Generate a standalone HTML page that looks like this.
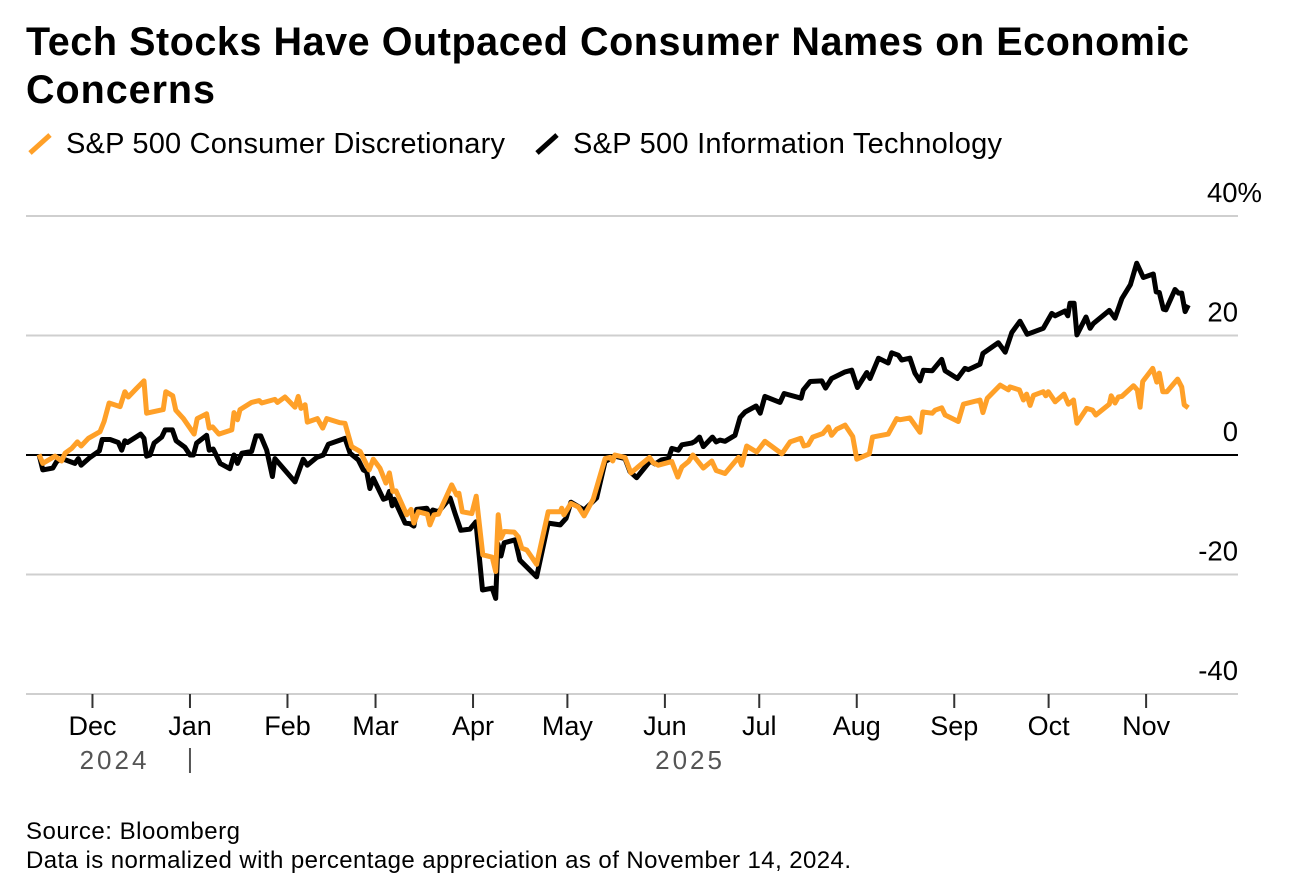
<!DOCTYPE html>
<html>
<head>
<meta charset="utf-8">
<title>Tech Stocks Have Outpaced Consumer Names on Economic Concerns</title>
<style>
html,body{margin:0;padding:0;background:#fff;}
svg{display:block;font-family:"Liberation Sans",Arial,sans-serif;}
</style>
</head>
<body>
<svg id="chart" width="1308" height="892" viewBox="0 0 1308 892" xmlns="http://www.w3.org/2000/svg">
  <rect x="0" y="0" width="1308" height="892" fill="#fff"/>
  <g font-size="39.5" font-weight="700" fill="#000">
    <text x="26" y="55" textLength="1163" lengthAdjust="spacing">Tech Stocks Have Outpaced Consumer Names on Economic</text>
    <text x="26" y="103" textLength="189" lengthAdjust="spacing">Concerns</text>
  </g>
  <g font-size="29" fill="#000">
    <g>
      <line x1="30" y1="153" x2="50" y2="135" stroke="#ffa028" stroke-width="5"/>
      <text x="66" y="153" textLength="439" lengthAdjust="spacing">S&amp;P 500 Consumer Discretionary</text>
    </g>
    <g>
      <line x1="537" y1="153" x2="557" y2="135" stroke="#000" stroke-width="5"/>
      <text x="573" y="153" textLength="429" lengthAdjust="spacing">S&amp;P 500 Information Technology</text>
    </g>
  </g>
  <g id="y-grid"></g>
  <g id="y-labels" font-size="27.5" fill="#000"></g>
  <g id="x-axis"></g>
  <g id="series"></g>
  <g font-size="24" fill="#000">
    <text x="26" y="839" textLength="214" lengthAdjust="spacing">Source: Bloomberg</text>
    <text x="26" y="868" textLength="825" lengthAdjust="spacing">Data is normalized with percentage appreciation as of November 14, 2024.</text>
  </g>
</svg>
<script>
// Days since November 14, 2024, and percentage change.
const consumerDays = [0,1.2,5.1,7.2,8.3,10.4,12.2,13.4,15.7,19.4,20.7,22.3,25.8,27.3,28.4,31.1,33.4,34.2,39.5,40.3,42.5,43.5,45.9,49.3,50.3,53.3,54.1,55.2,57.2,61.3,62,63.1,63.9,67.6,70,70.8,75,75.8,78.2,81.4,82.4,83.3,84.6,85.3,88.5,90.2,91.5,95.7,97.3,99.4,102.1,105,106.3,108.4,110.3,111.4,112.5,113.5,116.9,118.3,119.2,120.6,123.5,124.3,125.6,127,131.2,132.8,133.5,134.6,137.6,139,141.1,144.1,145.2,146,146.9,147.9,151.1,152.4,153.5,155.1,158.2,161.9,165.7,166.2,166.9,169.1,171.5,173.3,176.2,180,181.6,182.4,183.1,186.3,188.2,190,194.1,195.3,196.9,201.2,203.1,204.4,206.5,207.9,211.2,213.9,215.3,218.1,222.4,223.4,225,228.2,230.8,236.2,238.8,242.2,243.2,244.6,246,249.2,251,252,253.6,256.3,258.7,260,264,265,270,272.7,273.8,276.9,280.1,281,284,284.9,287,288.1,292.3,293.9,299.2,300.1,301.5,305.6,308.2,308.7,311.7,313,314,315.1,316.2,319.3,320.1,320.9,323.1,325.9,327.3,328.9,330,333.1,335,336,340.3,340.9,342.1,343.2,344.3,348,349.2,350.1,350.9,354.1,355.4,356.2,357.3,358.6,362,363.3,364.1,365.4];
const consumerValues = [0.1,-1.4,-0.2,-1,0.3,1.1,2.2,1.5,2.8,3.9,5.6,8.7,8.1,10.6,9.7,11.2,12.4,7,7.6,10.6,9.9,7.5,6.1,3.5,6.1,6.9,4.5,4.7,3.5,4.2,7.1,5.9,7.6,8.8,9.1,8.7,9.3,8.8,9.7,8,9.8,7.8,8.4,5.5,6.1,4.5,6.1,5.4,5.3,1.4,0.6,-2.5,-0.7,-2.2,-4.7,-3,-6.1,-6,-10,-9.1,-11.4,-9.5,-9.9,-11.7,-10,-9.9,-5,-6.7,-6.4,-9.5,-9.8,-6.9,-16.7,-17.1,-19.5,-10,-13.9,-12.8,-12.9,-13.7,-15.6,-15.9,-18.3,-9.5,-9.5,-8.9,-10,-8.1,-8.7,-10.2,-7.4,-0.6,-0.4,-1,0,-0.4,-3,-2.2,-0.4,-1.3,-1.7,-1.1,-3.7,-2,-1.1,0,-2.2,-1,-2.6,-3.1,-0.4,-1.7,1.5,0.5,2.3,0.2,2.2,2.8,1.5,1.7,3,3.6,4.7,3.3,4.3,5,3.1,-0.7,0.2,3,3.5,6.1,5.9,6.2,3.8,7.2,7,7.5,7.9,6.7,5.6,8.5,9.2,7.1,9.5,11.7,10.9,11.4,10.9,9.2,10.2,8.3,10,10.6,9.9,10.6,8.9,10.2,8.5,9.2,5.3,7.8,7.5,6.7,8.5,9.9,8.7,9.7,9.8,11.6,10.9,8,12.3,14.5,12.2,13.7,10.6,10.6,12.7,11.4,8.4,7.9];
const techDays = [0,1.2,4.4,5.6,7.2,8.3,11.4,12.5,13.4,16.2,19.2,20.1,22.6,25.2,26.3,27.3,28.1,32.3,33.4,34.2,35.3,36.6,39,40.1,42.4,43.6,46.4,48,49.1,50.1,53.3,54.1,55.4,57.6,60.7,62,63.1,64.5,67.6,69,70.5,72.4,74.2,75,81.4,84,85.3,88.3,90.4,92,95.7,97.3,98.9,101.5,103.1,104.2,105.2,106.3,109.5,110.6,111.4,112.3,112.9,116.4,118,119.2,120.1,123.3,124.3,125.2,127,130.7,132.3,134.1,137,138.9,141,144.1,145.2,145.9,146.9,147.9,151.4,152.9,158.2,161.9,165.7,167.6,169.1,173.3,177.3,180,183.1,186.3,187.9,190,194.3,195.9,198,200.1,201.2,203.3,204.4,207.5,208.6,210,211.2,214.1,215.3,216.5,218.1,221.3,222.9,224.5,228,229.3,230.8,235.6,236.9,242.3,243,245.2,248.9,250.1,252,256.3,258.4,260.2,263.2,264.2,266.9,270,271.1,273.2,274.3,276.9,278.5,280.1,281.2,284,287,288.1,292,294.4,295.5,299.2,300.1,305,307.2,309.3,311.9,314.2,319.3,322,323.1,326.2,327.1,327.8,329.1,330,332.9,334.2,335.2,340.3,342.1,344.3,347,349,351.1,354.3,355.2,356.2,357.5,358.3,361.2,362.3,363.3,364.4,365.4];
const techValues = [0.1,-2.5,-2.2,-1.1,-0.6,-0.8,-1.4,-0.6,-1.7,-0.4,0.7,2.6,2.6,2.1,0.8,2.4,2.1,3.5,2.8,-0.2,0,2,3,4.2,4.2,2.4,1.3,0,0,2,3.3,0.8,1,-1.4,-2.3,0,-1.4,0.3,0.6,3.2,3.2,0.8,-3.6,-0.6,-4.5,-0.7,-1.7,-0.4,0,1.8,2.5,2.8,0.3,-0.8,-2.5,-2.8,-5.6,-3.9,-7.4,-7.2,-6.1,-8.5,-7.4,-11.4,-11.5,-11.9,-9.1,-8.9,-9.9,-9.2,-9.5,-7.2,-9.8,-12.6,-12.4,-11.2,-22.6,-22.3,-24,-14.9,-16.9,-14.7,-14.2,-17.6,-20.4,-11.4,-11.7,-10.6,-7.9,-9.2,-7.2,-1.1,-0.2,-0.6,-2.8,-3.8,-1,-1.5,-0.8,-0.6,1.1,0.8,1.7,2,2.3,3,1.4,3,2.2,2.5,2.3,3.3,6.3,7.2,8.2,7,9.8,8.8,10.3,9.5,10.9,12.3,12.4,11.2,12.8,13.9,14.2,11.3,13.8,12.8,16.2,15.4,17.1,16.7,15.9,16.2,13.7,12.4,14.2,14.1,16,14.1,12.8,14.5,14.3,15.2,17,18.8,17.2,20.5,22.4,20.2,21.2,23.7,23.3,24.1,23.3,25.4,25.4,20.1,23.1,21.2,22,24.2,22.9,26.2,28.5,32.1,29.7,30.3,27.3,27.2,24.4,24.3,27.7,27.1,27.1,24,25.1];
const yTicks = [40,20,0,-20,-40];
const yTickLabels = ['40%','20','0','-20','-40'];
const monthLabels = ['Dec','Jan','Feb','Mar','Apr','May','Jun','Jul','Aug','Sep','Oct','Nov'];
const monthDays = [17,48,79,107,138,168,199,229,260,291,321,352];
const yearLabels = ['2024','2025'];
const yearCenterDays = [24,207];
const yearBoundaryDay = 48;

const NS = 'http://www.w3.org/2000/svg';
function xScale(day){ return 39 + day * 1148 / 365; }
function yScale(v){ return 455 - v * 239 / 40; }
function make(tag, parent, attrs){
  const el = document.createElementNS(NS, tag);
  for (const k in attrs) el.setAttribute(k, attrs[k]);
  parent.appendChild(el);
  return el;
}

const gridG = document.getElementById('y-grid');
const yLabG = document.getElementById('y-labels');
yTicks.forEach(function(t, i){
  const ln = make('line', gridG, {x1:26, x2:1238, y1:yScale(t), y2:yScale(t), stroke:'#cfcfcf', 'stroke-width':2});
  
  
  const tx = make('text', yLabG, {x: i === 0 ? 1262 : 1238, y: yScale(t) - 14, 'text-anchor':'end'});
  
  
  tx.textContent = yTickLabels[i];
});
const zero = make('line', gridG, {x1:26, x2:1238, y1:yScale(0), y2:yScale(0), stroke:'#000', 'stroke-width':2});



const xG = document.getElementById('x-axis');
monthLabels.forEach(function(m, i){
  const x = xScale(monthDays[i]);
  const tk = make('line', xG, {x1:x, x2:x, y1:694, y2:708, stroke:'#333', 'stroke-width':2});
  
  
  const tx = make('text', xG, {x:x, y:735, 'text-anchor':'middle', 'font-size':27, fill:'#000'});
  
  
  tx.textContent = m;
});
yearLabels.forEach(function(y, i){
  const tx = make('text', xG, {x:xScale(yearCenterDays[i]), y:769, 'text-anchor':'middle', 'font-size':26, fill:'#555', 'letter-spacing':'3'});
  
  
  tx.textContent = y;
});
const sep = make('line', xG, {x1:xScale(yearBoundaryDay), x2:xScale(yearBoundaryDay), y1:748, y2:773, stroke:'#555', 'stroke-width':2});



function linePath(days, values){
  return days.map(function(d, i){
    return (i ? 'L' : 'M') + xScale(d).toFixed(1) + ' ' + yScale(values[i]).toFixed(1);
  }).join('');
}
const seriesG = document.getElementById('series');
const techLine = make('path', seriesG, {d:linePath(techDays, techValues), fill:'none', stroke:'#000', 'stroke-width':5, 'stroke-linejoin':'round'});


const consumerLine = make('path', seriesG, {d:linePath(consumerDays, consumerValues), fill:'none', stroke:'#ffa028', 'stroke-width':5, 'stroke-linejoin':'round'});


</script>
</body>
</html>
